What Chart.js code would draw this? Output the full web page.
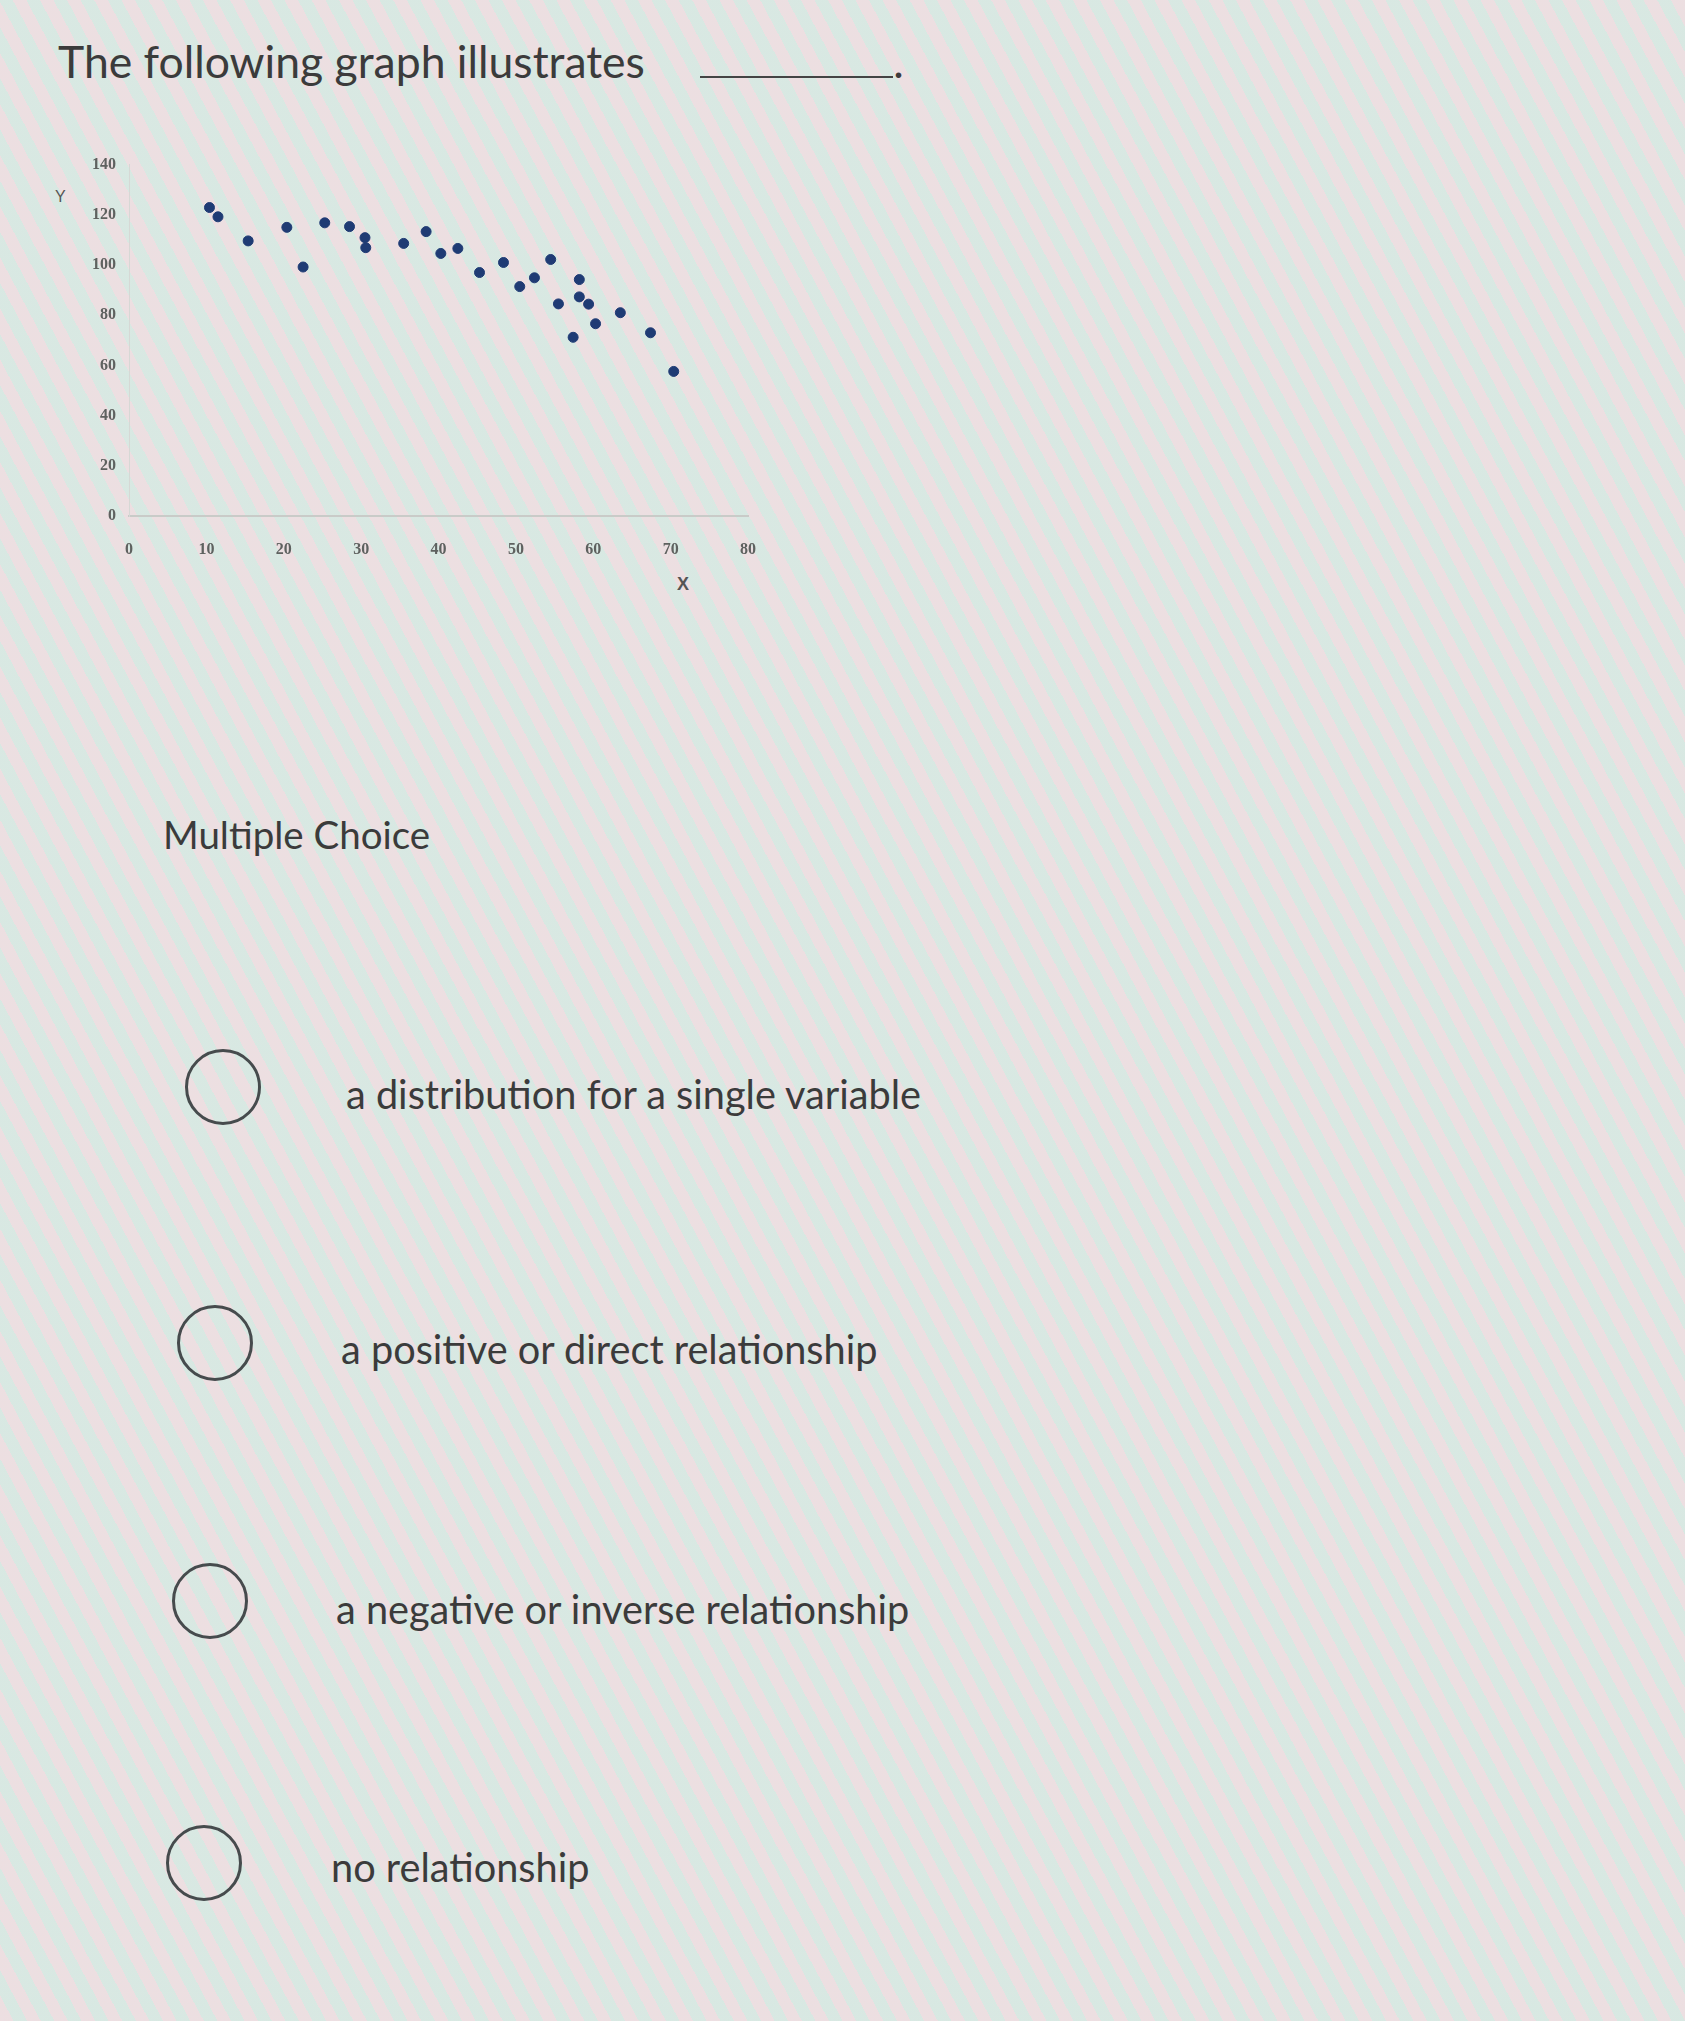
<!DOCTYPE html>
<html>
<head>
<meta charset="utf-8">
<script src="https://cdn.jsdelivr.net/npm/chart.js@4.4.1/dist/chart.umd.min.js"></script>
<style>
  html, body { margin: 0; padding: 0; }
  body {
    width: 1685px; height: 2021px; position: relative; overflow: hidden;
    font-family: Lato, "Open Sans", sans-serif; color: #3b3b3b;
    background-color: #eaebe8;
    background-image:
      repeating-linear-gradient(62deg, rgba(240,205,215,0.4) 0px, rgba(240,205,215,0.4) 12px, rgba(190,228,218,0.4) 12px, rgba(190,228,218,0.4) 24px);
  }
  .txt { position: absolute; white-space: nowrap; }
  .radio { position: absolute; width: 76px; height: 76px; border: 3px solid #464b4d; border-radius: 50%; box-sizing: border-box; }
  .lbl { position: absolute; font-family: "Liberation Sans", Arial, sans-serif; color: #555; }
</style>
</head>
<body>
<div class="txt" style="left:58px; top:34px; font-size:44.5px;">The following graph illustrates <span style="display:inline-block; width:193px; border-bottom:2px solid #444; vertical-align:baseline; margin-left:44px;"></span>.</div>

<div class="lbl" style="left:55px; top:188px; font-size:16px;">Y</div>
<div class="lbl" style="left:677px; top:574px; font-size:18px; font-weight:bold;">X</div>

<div id="wrap" style="position:absolute; left:40px; top:142px; width:740px; height:426px;">
  <canvas id="chart"></canvas>
</div>

<div class="txt" style="left:163px; top:811px; font-size:38.5px;">Multiple Choice</div>

<div class="radio" style="left:185px; top:1049px;"></div>
<div class="txt" style="left:346px; top:1070px; font-size:39.7px;">a distribution for a single variable</div>

<div class="radio" style="left:177px; top:1305px;"></div>
<div class="txt" style="left:341px; top:1325px; font-size:39.7px;">a positive or direct relationship</div>

<div class="radio" style="left:172px; top:1563px;"></div>
<div class="txt" style="left:336px; top:1585px; font-size:39.7px;">a negative or inverse relationship</div>

<div class="radio" style="left:166px; top:1825px;"></div>
<div class="txt" style="left:331px; top:1843px; font-size:39.7px;">no relationship</div>

<script>
// scatter values
const xValues = [10.4, 11.5, 15.4, 20.4, 22.5, 25.3, 28.5, 30.5, 30.6, 35.5, 38.4, 40.3, 42.5,
  45.3, 48.4, 50.5, 52.4, 54.5, 55.5, 58.2, 58.2, 59.4, 60.3, 57.4, 63.5, 67.4, 70.4];
const yValues = [122.9, 119.2, 109.6, 115, 99.2, 116.8, 115.3, 110.9, 106.9, 108.6, 113.3, 104.6, 106.6,
  97, 101, 91.4, 94.9, 102.2, 84.5, 94.2, 87.3, 84.4, 76.6, 71.2, 81, 73, 57.6];
const xTicks = [0, 10, 20, 30, 40, 50, 60, 70, 80];
const yTicks = [0, 20, 40, 60, 80, 100, 120, 140];

const points = xValues.map((x, i) => ({ x: x, y: yValues[i] }));
const tickFont = { family: "'Liberation Serif', serif", size: 16, weight: 'bold' };

new Chart(document.getElementById('chart'), {
  type: 'scatter',
  data: {
    datasets: [{
      data: points,
      backgroundColor: '#1f3b74',
      borderColor: '#1f3b74',
      pointRadius: 5,
      pointHoverRadius: 5
    }]
  },
  options: {
    responsive: true,
    maintainAspectRatio: false,
    animation: false,
    layout: { padding: { top: 15, right: 20, bottom: 0, left: 0 } },
    plugins: { legend: { display: false }, tooltip: { enabled: false } },
    scales: {
      x: {
        type: 'linear', min: 0, max: 80,
        afterBuildTicks: s => { s.ticks = xTicks.map(v => ({ value: v })); },
        afterFit: s => { s.height = 52; },
        grid: { display: false, drawTicks: false },
        border: { color: '#c9cbc8', width: 2 },
        ticks: { padding: 24, color: '#5e615f', font: tickFont, maxRotation: 0 }
      },
      y: {
        type: 'linear', min: 0, max: 140,
        afterBuildTicks: s => { s.ticks = yTicks.map(v => ({ value: v })); },
        afterFit: s => { s.width = 89; },
        grid: { display: false, drawTicks: false },
        border: { color: '#d6d8d5', width: 1 },
        ticks: { padding: 13, color: '#5e615f', font: tickFont }
      }
    }
  }
});
</script>
</body>
</html>
